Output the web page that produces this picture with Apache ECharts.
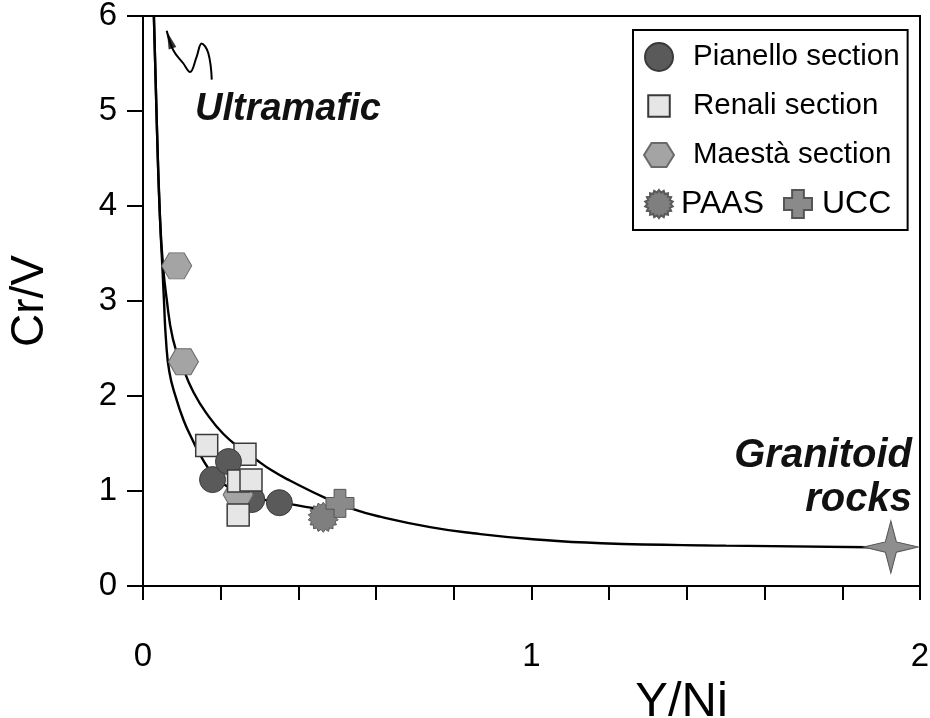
<!DOCTYPE html>
<html><head><meta charset="utf-8">
<script src="https://cdn.jsdelivr.net/npm/echarts@6/dist/echarts.min.js"></script>
<style>html,body{margin:0;padding:0;background:#fff}#c{width:930px;height:718px}</style>
</head><body><div id="c"></div>
<script>
// ---- data ----
const pianello = [[0.179, 1.12], [0.22, 1.31], [0.28, 0.91], [0.351, 0.877]];
const renali = [[0.164, 1.48], [0.2625, 1.386], [0.246, 1.105], [0.278, 1.116], [0.245, 0.747]];
const maesta = [[0.0867, 3.37], [0.104, 2.36], [0.245, 0.96]];
const paas = [[0.464, 0.723]];
const ucc = [[0.507, 0.87]];
const granitoid = [[1.925, 0.41]];
const upperCurve = [[0.028, 6.0], [0.036, 4.8], [0.044, 3.85], [0.052, 3.35], [0.06, 3.05], [0.077, 2.6], [0.1, 2.33], [0.13, 2.04], [0.17, 1.78], [0.207, 1.6], [0.25, 1.45], [0.288, 1.34], [0.33, 1.22], [0.378, 1.11], [0.473, 0.92], [0.541, 0.81], [0.61, 0.73], [0.739, 0.62], [0.85, 0.555], [0.996, 0.495], [1.18, 0.45], [1.5, 0.425], [1.925, 0.405]];
const lowerCurve = [[0.028, 6.0], [0.036, 4.8], [0.044, 3.85], [0.05, 3.35], [0.054, 3.0], [0.059, 2.6], [0.068, 2.25], [0.085, 1.98], [0.105, 1.74], [0.126, 1.55], [0.15, 1.36], [0.18, 1.18], [0.22, 1.04], [0.275, 0.94], [0.37, 0.87], [0.44, 0.82], [0.5, 0.8]];
const arrowPath = [[0.061, 5.845], [0.078, 5.64], [0.104, 5.50], [0.121, 5.41], [0.138, 5.57], [0.151, 5.71], [0.168, 5.61], [0.177, 5.33]];
const xTickLabels = {0: '0', 1: '1', 2: '2'};
const yTickLabels = ['0', '1', '2', '3', '4', '5', '6'];
const legendNames = ['Pianello section', 'Renali section', 'Maestà section', 'PAAS', 'UCC'];

// ---- shapes ----
const FONT = '"Liberation Sans", Arial, sans-serif';
const hexPath = 'path://M0,4 L2.5,0 L7.5,0 L10,4 L7.5,8 L2.5,8 Z';
// square with a padded bounding box so the legend icon is smaller than the circle
const squarePath = 'path://M0,0 M13,13 M1.5,1.5 L11.5,1.5 L11.5,11.5 L1.5,11.5 Z';
const crossPath = 'path://M2.9,0 L7.1,0 L7.1,2.9 L10,2.9 L10,7.1 L7.1,7.1 L7.1,10 L2.9,10 L2.9,7.1 L0,7.1 L0,2.9 L2.9,2.9 Z';
const starPath = 'path://M5,0 L6,4 L10,5 L6,6 L5,10 L4,6 L0,5 L4,4 Z';
const burstPath = (function () {
  const n = 18, pts = [];
  for (let i = 0; i < 2 * n; i++) {
    const r = i % 2 === 0 ? 5 : 4.1;
    const a = Math.PI * i / n;
    pts.push((5 + r * Math.sin(a)).toFixed(3) + ',' + (5 - r * Math.cos(a)).toFixed(3));
  }
  return 'path://M' + pts.join(' L') + ' Z';
})();
const arrowHead = 'path://M5,0 L10,20 L0,20 Z';

const chart = echarts.init(document.getElementById('c'));
const curveStyle = {color: '#000', width: 2.4};
const squareStyle = {color: '#e6e6e6', borderColor: '#3a3a3a', borderWidth: 1.5, opacity: 1};
chart.setOption({
  animation: false,
  backgroundColor: '#fff',
  textStyle: {fontFamily: FONT},
  grid: {left: 143, right: 10, top: 16, bottom: 132, show: true, borderColor: '#000', borderWidth: 2, containLabel: false, outerBoundsMode: 'none'},
  xAxis: {
    type: 'value', min: 0, max: 2, interval: 0.2,
    axisLine: {lineStyle: {color: '#000', width: 2}},
    axisTick: {length: 14, lineStyle: {color: '#000', width: 2}},
    axisLabel: {
      margin: 54, fontSize: 33, color: '#000', fontFamily: FONT,
      formatter: v => { const r = Math.round(v); return Math.abs(v - r) < 1e-6 && xTickLabels[r] !== undefined ? xTickLabels[r] : ''; }
    },
    splitLine: {show: false},
    name: 'Y/Ni', nameLocation: 'middle', nameGap: 80,
    nameTextStyle: {fontSize: 49, color: '#000', fontFamily: FONT, padding: [0, 0, 0, 300]}
  },
  yAxis: {
    type: 'value', min: 0, max: 6, interval: 1,
    axisLine: {lineStyle: {color: '#000', width: 2}},
    axisTick: {length: 16, lineStyle: {color: '#000', width: 2}},
    axisLabel: {margin: 26, fontSize: 33, color: '#000', fontFamily: FONT, formatter: v => yTickLabels[Math.round(v)]},
    splitLine: {show: false},
    name: 'Cr/V', nameLocation: 'middle', nameGap: 90,
    nameTextStyle: {fontSize: 46, color: '#000', fontFamily: FONT}
  },
  legend: {
    data: legendNames.map((n, i) => i < 3 ? {name: n} : {name: n, textStyle: {fontSize: 32, padding: [0, 0, 0, i === 3 ? 2 : 4]}}),
    orient: 'horizontal', left: 633, top: 30, width: 270,
    itemGap: 19, itemWidth: 30, itemHeight: 28,
    padding: [12, 8, 10, 10],
    borderColor: '#000', borderWidth: 2, backgroundColor: '#fff',
    selectedMode: false,
    textStyle: {fontSize: 29.5, color: '#000', fontFamily: FONT, padding: [0, 0, 0, 14]}
  },
  graphic: [
    {type: 'text', x: 195, y: 91, style: {text: 'Ultramafic', font: 'italic bold 38px ' + FONT, fill: '#111'}},
    {type: 'text', x: 912, y: 434, style: {text: 'Granitoid\nrocks', font: 'italic bold 40px ' + FONT, fill: '#111', align: 'right', lineHeight: 44}}
  ],
  series: [
    {type: 'line', data: upperCurve, smooth: 0.5, symbol: 'none', lineStyle: curveStyle, z: 1, silent: true},
    {type: 'line', data: lowerCurve, smooth: 0.5, symbol: 'none', lineStyle: curveStyle, z: 1, silent: true},
    {type: 'line', data: arrowPath, smooth: 0.4, symbol: 'none', lineStyle: {color: '#000', width: 2}, z: 1, silent: true},
    {type: 'scatter', data: arrowPath.slice(0, 1), symbol: arrowHead, symbolSize: [8, 18], symbolRotate: 18, symbolOffset: [3, 9], itemStyle: {color: '#000'}, z: 1, silent: true},
    {name: 'Renali section', type: 'scatter', data: renali.slice(0, 2), symbol: squarePath, symbolSize: 28.6, itemStyle: squareStyle, z: 2},
    {name: 'Pianello section', type: 'scatter', data: pianello, symbol: 'circle', symbolSize: 26, itemStyle: {color: '#5a5a5a', borderColor: '#3a3a3a', borderWidth: 1, opacity: 1}, z: 3},
    {name: 'Maestà section', type: 'scatter', data: maesta, symbol: hexPath, symbolSize: [30, 26], itemStyle: {color: '#a4a4a4', borderColor: '#6a6a6a', borderWidth: 1, opacity: 1}, z: 4},
    {name: 'Renali section', type: 'scatter', data: renali.slice(2), symbol: squarePath, symbolSize: 28.6, itemStyle: squareStyle, z: 5},
    {name: 'PAAS', type: 'scatter', data: paas, symbol: burstPath, symbolSize: 30, itemStyle: {color: '#7f7f7f', borderColor: '#5a5a5a', borderWidth: 1, opacity: 1}, z: 5},
    {name: 'UCC', type: 'scatter', data: ucc, symbol: crossPath, symbolSize: 28, itemStyle: {color: '#8a8a8a', borderColor: '#555', borderWidth: 1, opacity: 1}, z: 6},
    {name: 'Granitoid', type: 'scatter', data: granitoid, symbol: starPath, symbolSize: [55, 52], itemStyle: {color: '#8e8e8e', borderColor: '#555', borderWidth: 1, opacity: 1}, z: 6}
  ]
});
</script>
</body></html>
